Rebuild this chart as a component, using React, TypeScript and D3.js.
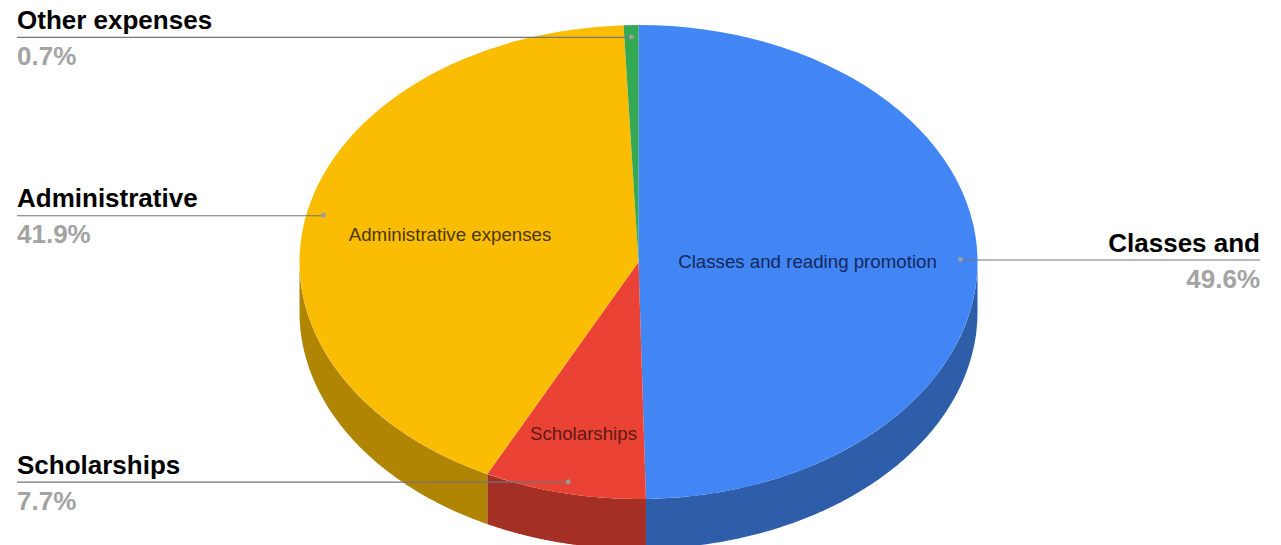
import React from "react";
import * as d3 from "d3";

const categories = ["Classes and reading promotion", "Scholarships", "Administrative expenses", "Other expenses"];
const calloutTitles = ["Classes and", "Scholarships", "Administrative", "Other expenses"];
const percents = [49.6, 7.7, 41.9, 0.7];
const topColors = ["#4285f4", "#ea4335", "#fbbc04", "#34a853"];
const sideColors = ["#2e5daa", "#a32f25", "#b08503", "#24763a"];
const sliceLabelColors = ["#14285c", "#5c1a15", "#4a3800", "#000000"];
const showSliceLabel = [true, true, true, false];
const inlineLabelPos = [[807.5, 261], [583.5, 433], [450, 234.5], [0, 0]];

const W = 1281, H = 545;
const cx = 638.5, cy = 262, rx = 339, ry = 237, depth = 50;
const FONT = "'Liberation Sans', Arial, sans-serif";

const px = (a: number, r = 1) => cx + rx * r * Math.sin(a);
const py = (a: number, r = 1) => cy - ry * r * Math.cos(a);

export default function App() {
  const slices = d3.pie<number>().sort(null).value((d) => d).startAngle(0).endAngle(2 * Math.PI)(percents);
  const arc = d3.arc<any>().innerRadius(0).outerRadius(rx);
  const line = d3.line<[number, number]>();

  const side = (a0: number, a1: number) => {
    const s = Math.max(a0, Math.PI / 2);
    const e = Math.min(a1, (3 * Math.PI) / 2);
    if (e <= s) return null;
    const angles = d3.range(0, 121).map((i) => s + ((e - s) * i) / 120);
    const top = angles.map((a) => [px(a), py(a)] as [number, number]);
    const bot = angles.slice().reverse().map((a) => [px(a), py(a) + depth] as [number, number]);
    return line([...top, ...bot]) + "Z";
  };

  return (
    <svg width={W} height={H} style={{ position: "absolute", left: 0, top: 0, background: "#fff" }} fontFamily={FONT}>
      {slices.map((s, i) => {
        const d = side(s.startAngle, s.endAngle);
        return d ? <path key={i} d={d} fill={sideColors[i]} /> : null;
      })}
      <g transform={`translate(${cx},${cy}) scale(1,${ry / rx})`}>
        {slices.map((s, i) => (
          <path key={i} d={arc(s) as string} fill={topColors[i]} />
        ))}
      </g>
      {slices.map((s, i) =>
        showSliceLabel[i] ? (
          <text key={i} x={inlineLabelPos[i][0]} y={inlineLabelPos[i][1]} dy="0.35em" textAnchor="middle" fontSize={18.7} fill={sliceLabelColors[i]}>
            {categories[i]}
          </text>
        ) : null
      )}
      {slices.map((s, i) => {
        const mid = (s.startAngle + s.endAngle) / 2;
        const x = px(mid, 0.95), y = py(mid, 0.95);
        const right = x > cx + 100;
        const xEnd = right ? 1260 : 17;
        const anchor = right ? "end" : "start";
        return (
          <g key={i}>
            <line x1={x} y1={y + 0.5} x2={xEnd} y2={y + 0.5} stroke="#757575" strokeWidth={1.2} />
            <circle cx={x} cy={y} r={2.4} fill="#9e9e9e" />
            <text x={xEnd} y={y - 8} textAnchor={anchor} fontSize={26} fontWeight="bold" fill="#000">
              {calloutTitles[i]}
            </text>
            <text x={xEnd} y={y + 28} textAnchor={anchor} fontSize={26} fontWeight="bold" fill="#a3a3a3">
              {percents[i].toFixed(1)}%
            </text>
          </g>
        );
      })}
    </svg>
  );
}
